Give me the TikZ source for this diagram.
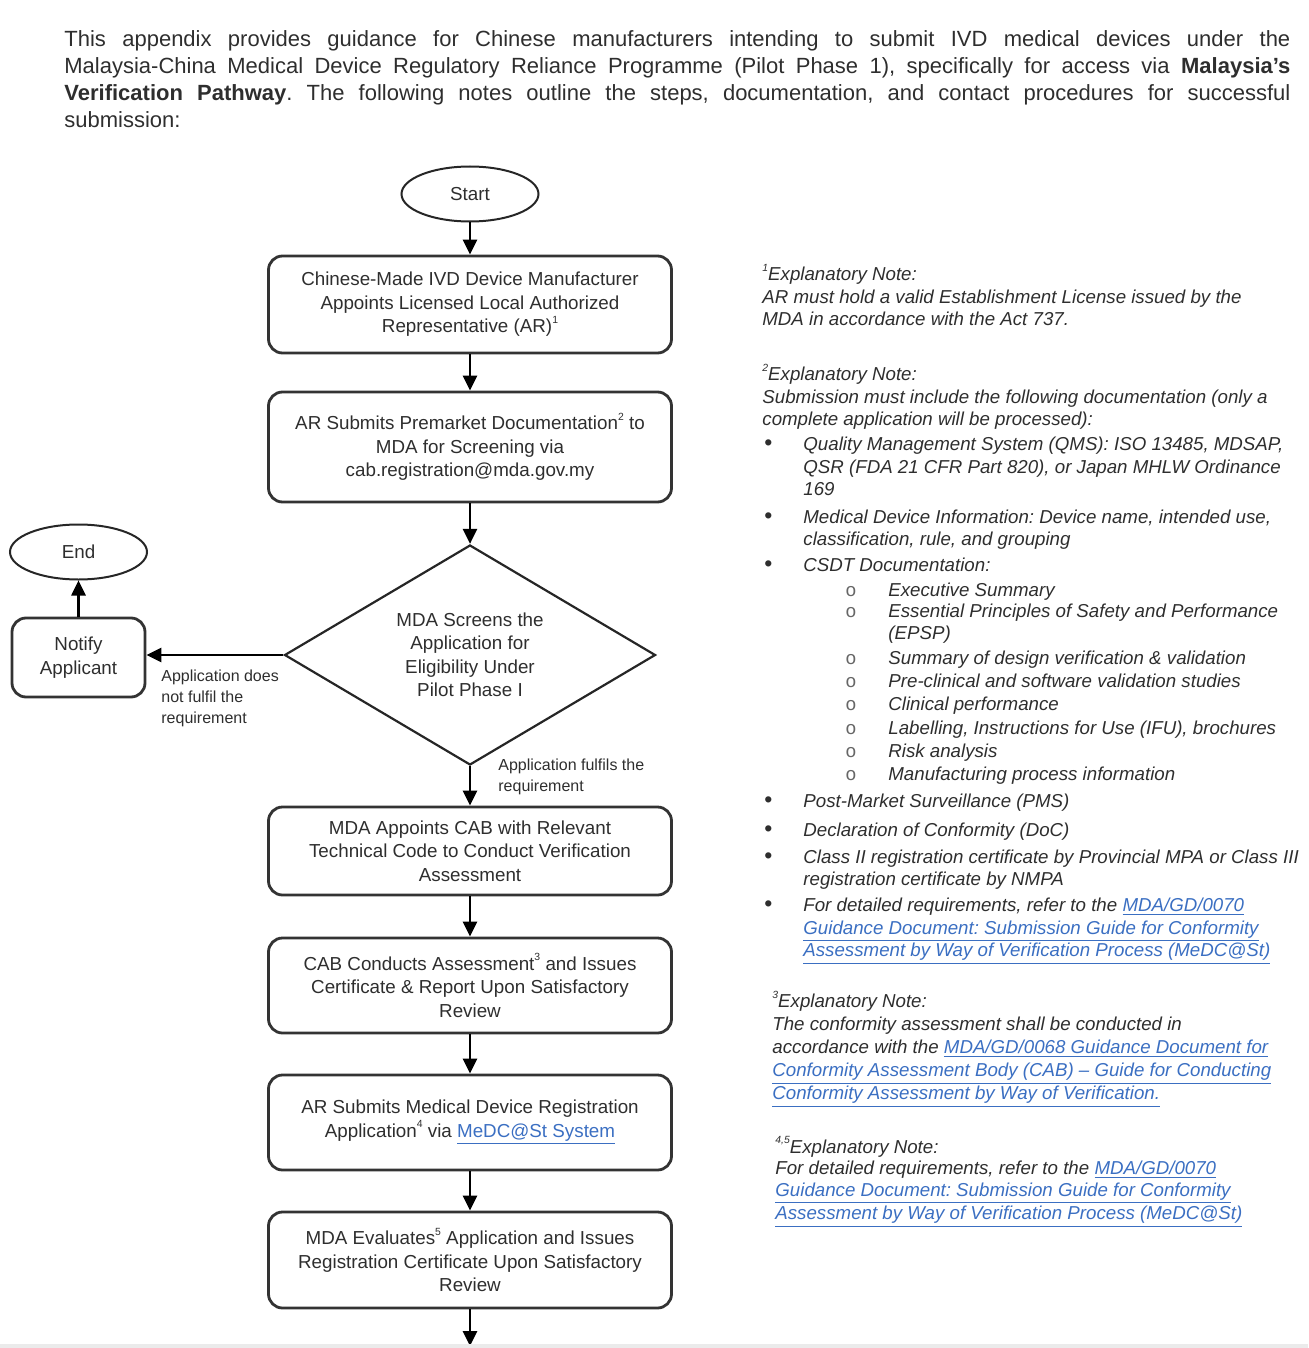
\documentclass[tikz,border=0pt]{standalone}
\usepackage{fontspec}
\setmainfont{Liberation Sans}
\setmonofont{Liberation Mono}
\usetikzlibrary{arrows.meta,shapes.geometric}
\definecolor{inkgray}{HTML}{2E2E2E}
\definecolor{linkblue}{HTML}{3B6FC2}
\frenchspacing
\newcommand{\boxfont}{\fontsize{9.4}{11.75}\selectfont}
\newcommand{\notefont}{\fontsize{9.35}{11.25}\selectfont\itshape}
\newcommand{\weblink}[1]{\textcolor{linkblue}{\underline{#1}}}
\newcommand{\supmark}[1]{\raisebox{0.95ex}{\fontsize{5.2}{5.2}\selectfont #1}}
\newcommand{\bulletmark}{\makebox[19.5pt][l]{\upshape\fontsize{11.5}{11.25}\selectfont\textbullet}}
\newcommand{\circmark}{\makebox[21.5pt][l]{\upshape\ttfamily\color{black!60}o}}
\tikzstyle{stepbox} = [draw=black!80, line width=1.4pt, rectangle, rounded corners=7pt, minimum width=201.5pt, inner sep=0pt, align=center, text=inkgray, font=\boxfont]
\tikzstyle{terminal} = [draw=black!85, line width=1pt, ellipse, minimum width=68.5pt, minimum height=27.5pt, inner sep=0pt, text=inkgray, font=\boxfont]
\tikzstyle{decision} = [draw=black!85, line width=1.1pt, diamond, aspect=1.69, minimum width=185.5pt, minimum height=110pt, inner sep=0pt, align=center, text=inkgray, font=\boxfont]
\tikzstyle{flow} = [-{Triangle[length=7.5pt,width=7pt]}, line width=1.3pt, black]
\tikzstyle{edgenote} = [anchor=base west, inner sep=0pt, align=left, text=inkgray, font=\fontsize{8}{10.5}\selectfont]
\tikzstyle{note} = [anchor=base west, inner sep=0pt, align=left, text=inkgray, font=\notefont]

\begin{document}
\begin{tikzpicture}[x=0.5pt, y=-0.5pt]
\useasboundingbox (0,0) rectangle (1308,1348);

\node [anchor=north west, inner sep=0pt, text width=613pt, align=justify, text=inkgray, font=\fontsize{11}{13.5}\selectfont] (intro) at (64,30) {This appendix provides guidance for Chinese manufacturers intending to submit IVD medical devices under the\linebreak Malaysia-China Medical Device Regulatory Reliance Programme (Pilot Phase 1), specifically for access via \textbf{Malaysia's}\linebreak \textbf{Verification Pathway}. The following notes outline the steps, documentation, and contact procedures for successful\linebreak submission:};

% flowchart
\node [terminal] (start) at (470,194) {Start};
\node [stepbox, minimum height=48.5pt] (appoint) at (470,304.5) {Chinese-Made IVD Device Manufacturer\\Appoints Licensed Local Authorized\\Representative (AR)\supmark{1}};
\node [stepbox, minimum height=55pt] (submit) at (470,447) {AR Submits Premarket Documentation\supmark{2} to\\MDA for Screening via\\cab.registration@mda.gov.my};
\node [decision] (screen) at (470,655) {MDA Screens the\\Application for\\Eligibility Under\\Pilot Phase I};
\node [stepbox, minimum width=66.5pt, minimum height=39.5pt] (notify) at (78.5,657.5) {Notify\\Applicant};
\node [terminal] (end) at (78.5,552) {End};
\node [stepbox, minimum height=44pt] (cab) at (470,851) {MDA Appoints CAB with Relevant\\Technical Code to Conduct Verification\\Assessment};
\node [stepbox, minimum height=47.5pt] (assess) at (470,985.5) {CAB Conducts Assessment\supmark{3} and Issues\\Certificate \& Report Upon Satisfactory\\Review};
\node [stepbox, minimum height=47.5pt] (register) at (470,1122.5) {AR Submits Medical Device Registration\\Application\supmark{4} via \weblink{MeDC@St System}};
\node [stepbox, minimum height=48pt] (evaluate) at (470,1260) {MDA Evaluates\supmark{5} Application and Issues\\Registration Certificate Upon Satisfactory\\Review};
\coordinate (next) at (470,1346);

\draw [flow] (start) -- (appoint);
\draw [flow] (appoint) -- (submit);
\draw [flow] (submit) -- (screen);
\draw [flow] (screen.west) -- (screen.west -| notify.east);
\draw [flow] (notify) -- (end);
\draw [flow] (screen) -- (cab);
\draw [flow] (cab) -- (assess);
\draw [flow] (assess) -- (register);
\draw [flow] (register) -- (evaluate);
\draw [flow] (evaluate) -- (next);

\node [edgenote] (failnote) at (161,723) {Application does\\not fulfil the\\requirement};
\node [edgenote] (passnote) at (498,791) {Application fulfils the\\requirement};

% explanatory notes
\node [note] (note1) at (762,325.5) {\supmark{1}Explanatory Note:\\AR must hold a valid Establishment License issued by the\\MDA in accordance with the Act 737.};
\node [note] (note2) at (762,425.5) {\supmark{2}Explanatory Note:\\Submission must include the following documentation (only a\\complete application will be processed):};
\node [note] (qms) at (764,495.5) {\bulletmark Quality Management System (QMS): ISO 13485, MDSAP,\\\hspace*{19.5pt}QSR (FDA 21 CFR Part 820), or Japan MHLW Ordinance\\\hspace*{19.5pt}169};
\node [note] (devinfo) at (764,545.5) {\bulletmark Medical Device Information: Device name, intended use,\\\hspace*{19.5pt}classification, rule, and grouping};
\node [note] (csdt) at (764,571.5) {\bulletmark CSDT Documentation:};
\foreach \y/\txt [count=\i] in {596.5/Executive Summary, 639.5/{Essential Principles of Safety and Performance\\\hspace*{21.5pt}(EPSP)}, 664.5/Summary of design verification \& validation, 687.5/Pre-clinical and software validation studies, 710.5/Clinical performance, 734.5/{Labelling, Instructions for Use (IFU), brochures}, 757.5/Risk analysis, 780.5/Manufacturing process information}
  \node [note] (csdt\i) at (845,\y) {\circmark\txt};
\node [note] (pms) at (764,807.5) {\bulletmark Post-Market Surveillance (PMS)};
\node [note] (doc) at (764,836.5) {\bulletmark Declaration of Conformity (DoC)};
\node [note] (nmpa) at (764,885.5) {\bulletmark Class II registration certificate by Provincial MPA or Class III\\\hspace*{19.5pt}registration certificate by NMPA};
\node [note] (guide) at (764,956.5) {\bulletmark For detailed requirements, refer to the \weblink{MDA/GD/0070}\\\hspace*{19.5pt}\weblink{Guidance Document: Submission Guide for Conformity}\\\hspace*{19.5pt}\weblink{Assessment by Way of Verification Process (MeDC@St)}};
\node [note, font=\fontsize{9.35}{11.5}\selectfont\itshape] (note3) at (772,1099.5) {\supmark{3}Explanatory Note:\\The conformity assessment shall be conducted in\\accordance with the \weblink{MDA/GD/0068 Guidance Document for}\\\weblink{Conformity Assessment Body (CAB) -- Guide for Conducting}\\\weblink{Conformity Assessment by Way of Verification.}};
\node [note, font=\fontsize{9.35}{10.7}\selectfont\itshape] (note45) at (775,1219.5) {\supmark{4,5}Explanatory Note:\\For detailed requirements, refer to the \weblink{MDA/GD/0070}\\\weblink{Guidance Document: Submission Guide for Conformity}\\\weblink{Assessment by Way of Verification Process (MeDC@St)}};

\fill [black!8] (0,1344) rectangle (1308,1348);
\end{tikzpicture}
\end{document}
